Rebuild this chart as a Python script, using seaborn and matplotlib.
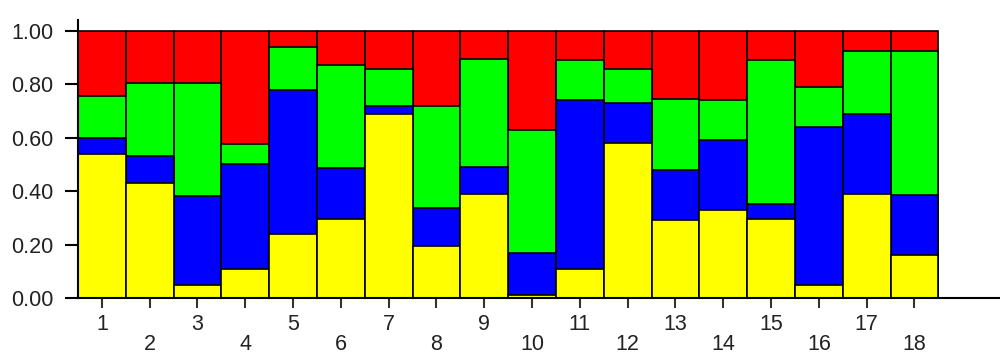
import numpy as np
import pandas as pd
import matplotlib
matplotlib.use("Agg")
import matplotlib.pyplot as plt
import seaborn as sns

# cluster membership per individual (yellow, blue, green, red)
individuals = [str(i) for i in range(1, 19)]
yellow = [0.54, 0.43, 0.05, 0.11, 0.24, 0.295, 0.69, 0.195, 0.39, 0.01, 0.11, 0.58, 0.29, 0.33, 0.295, 0.05, 0.39, 0.16]
blue = [0.06, 0.10, 0.33, 0.39, 0.54, 0.19, 0.03, 0.14, 0.10, 0.16, 0.63, 0.15, 0.19, 0.26, 0.055, 0.59, 0.30, 0.225]
green = [0.155, 0.275, 0.425, 0.075, 0.16, 0.385, 0.135, 0.385, 0.405, 0.46, 0.15, 0.125, 0.265, 0.15, 0.54, 0.15, 0.235, 0.54]
red = [0.245, 0.195, 0.195, 0.425, 0.06, 0.13, 0.145, 0.28, 0.105, 0.37, 0.11, 0.145, 0.255, 0.26, 0.11, 0.21, 0.075, 0.075]

sns.set_style("white")
plt.rcParams['font.family'] = ['Liberation Sans', 'DejaVu Sans']

df = pd.DataFrame({'ind': individuals, 'yellow': yellow, 'blue': blue,
                   'green': green, 'red': red})
layers = ['yellow', 'blue', 'green', 'red']
colors = {'yellow': '#ffff00', 'blue': '#0000ff', 'green': '#00ff00', 'red': '#ff0000'}
cum = df[layers].cumsum(axis=1)

fig = plt.figure(figsize=(10, 3.55), dpi=100)
ax = fig.add_axes([0.078, 0.1606, 0.922, 0.783])

# draw from the top of the stack down so each layer covers the one above
for layer in reversed(layers):
    sns.barplot(x=df['ind'], y=cum[layer], color=colors[layer], width=1.0,
                edgecolor='black', linewidth=1.2, saturation=1, ax=ax)

ax.set_xlim(-0.5, 18.79)
ax.set_ylim(0, 1.04)
ax.set_yticks([0, 0.2, 0.4, 0.6, 0.8, 1.0])
ax.set_yticklabels([f"{v:.2f}" for v in [0, 0.2, 0.4, 0.6, 0.8, 1.0]])
ax.set_xticks(range(18))
ax.set_xticklabels([s if int(s) % 2 else "\n" + s for s in individuals])
for lab in ax.get_xticklabels():
    lab.set_linespacing(0.95)
ax.set_xlabel('')
ax.set_ylabel('')

for side in ['top', 'right']:
    ax.spines[side].set_visible(False)
for side in ['left', 'bottom']:
    ax.spines[side].set_color('black')
    ax.spines[side].set_linewidth(1.5)

ax.tick_params(axis='y', length=9.5, width=1.5, color='black', pad=8,
               labelsize=15.5, labelcolor='#222222', direction='out', left=True)
ax.tick_params(axis='x', length=7.5, width=1.5, color='#333333', pad=4,
               labelsize=15.5, labelcolor='#222222', direction='out', bottom=True)

fig.savefig('out.png', dpi=100)
